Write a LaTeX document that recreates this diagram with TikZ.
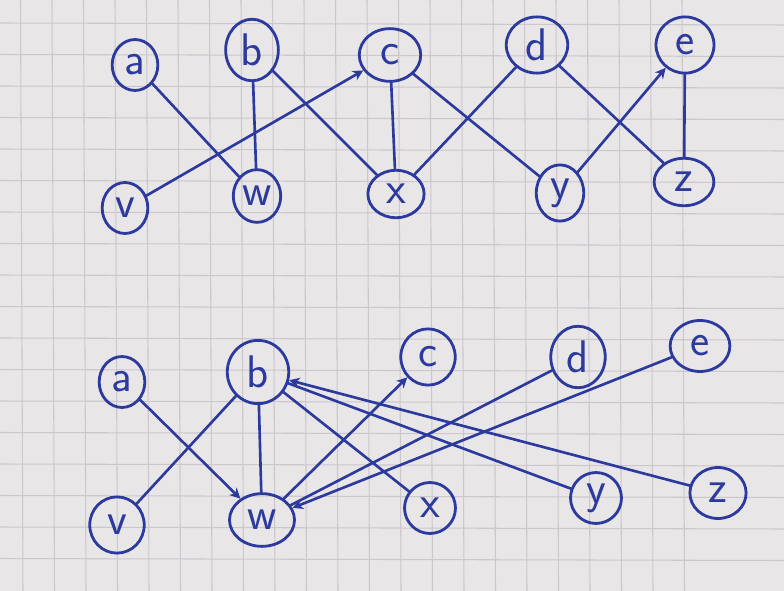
\documentclass[tikz,border=0pt]{standalone}
\usetikzlibrary{shapes.geometric,arrows.meta}
\definecolor{paper}{RGB}{233,230,232}
\definecolor{gridline}{RGB}{204,199,205}
\definecolor{ink}{RGB}{44,58,158}
\tikzset{
  vtx/.style={ellipse, draw=ink, line width=1.6pt, text=ink, inner sep=0pt,
    font=\sffamily\fontsize{26}{28}\selectfont},
  edge/.style={draw=ink, line width=1.5pt, line cap=round},
  tip/.style={edge, -{Stealth[length=6pt,width=6pt]}}
}
\begin{document}
\begin{tikzpicture}[x=0.02cm, y=-0.02cm]
  % sheet of squared paper
  \fill[paper] (0,0) rectangle (784,591);
  \useasboundingbox (0,0) rectangle (784,591);
  \foreach \gx in {0,...,21} {
    \draw[gridline, line width=0.6pt] (20.5+31.5*\gx,0) -- (23+31.5*\gx,591);
  }
  \foreach \gy in {0,...,18} {
    \draw[gridline, line width=0.6pt] (0,-8.5+31.5*\gy) -- (784,-6.5+31.5*\gy);
  }

  % upper graph: top row
  \node[vtx, minimum width=26pt, minimum height=29pt] (a1) at (135,65) {a};
  \node[vtx, minimum width=30pt, minimum height=35pt] (b1) at (252,50) {b};
  \node[vtx, minimum width=35pt, minimum height=30pt] (c1) at (390,55) {c};
  \node[vtx, minimum width=35pt, minimum height=32pt] (d1) at (537,45) {d};
  \node[vtx, minimum width=33pt, minimum height=32pt] (e1) at (685,45) {e};
  % upper graph: bottom row
  \node[vtx, minimum width=26pt, minimum height=29pt] (v1) at (125,208) {v};
  \node[vtx, minimum width=27pt, minimum height=30pt] (w1) at (257,196) {w};
  \node[vtx, minimum width=32pt, minimum height=27pt] (x1) at (396,194) {x};
  \node[vtx, minimum width=27pt, minimum height=32pt] (y1) at (560,193) {y};
  \node[vtx, minimum width=34pt, minimum height=27pt] (z1) at (684,182) {z};

  \draw[edge] (a1) -- (w1);
  \draw[edge] (b1) -- (w1);
  \draw[edge] (b1) -- (x1);
  \draw[tip]  (v1) -- (c1);
  \draw[edge] (c1) -- (x1);
  \draw[edge] (c1) -- (y1);
  \draw[edge] (d1) -- (x1);
  \draw[edge] (d1) -- (z1);
  \draw[tip]  (y1) -- (e1);
  \draw[edge] (e1) -- (z1);

  % lower graph: top row
  \node[vtx, minimum width=26pt, minimum height=29pt] (a2) at (122,382) {a};
  \node[vtx, minimum width=35pt, minimum height=36pt] (b2) at (258,372) {b};
  \node[vtx, minimum width=31pt, minimum height=32pt] (c2) at (428,357) {c};
  \node[vtx, minimum width=31pt, minimum height=35pt] (d2) at (578,357) {d};
  \node[vtx, minimum width=34pt, minimum height=29pt] (e2) at (700,346) {e};
  % lower graph: bottom row
  \node[vtx, minimum width=31pt, minimum height=32pt] (v2) at (117,525) {v};
  \node[vtx, minimum width=37pt, minimum height=30pt] (w2) at (262,520) {w};
  \node[vtx, minimum width=29pt, minimum height=29pt] (x2) at (430,508) {x};
  \node[vtx, minimum width=29pt, minimum height=29pt] (y2) at (596,498) {y};
  \node[vtx, minimum width=32pt, minimum height=29pt] (z2) at (718,493) {z};

  \draw[tip]  (a2) -- (w2);
  \draw[edge] (b2) -- (v2);
  \draw[edge] (b2) -- (w2);
  \draw[edge] (b2) -- (x2);
  \draw[edge] (b2) -- (y2);
  \draw[tip]  (z2) -- (b2);
  \draw[tip]  (w2) -- (c2);
  \draw[edge] (w2) -- (d2);
  \draw[tip]  (e2) -- (w2);
\end{tikzpicture}
\end{document}
